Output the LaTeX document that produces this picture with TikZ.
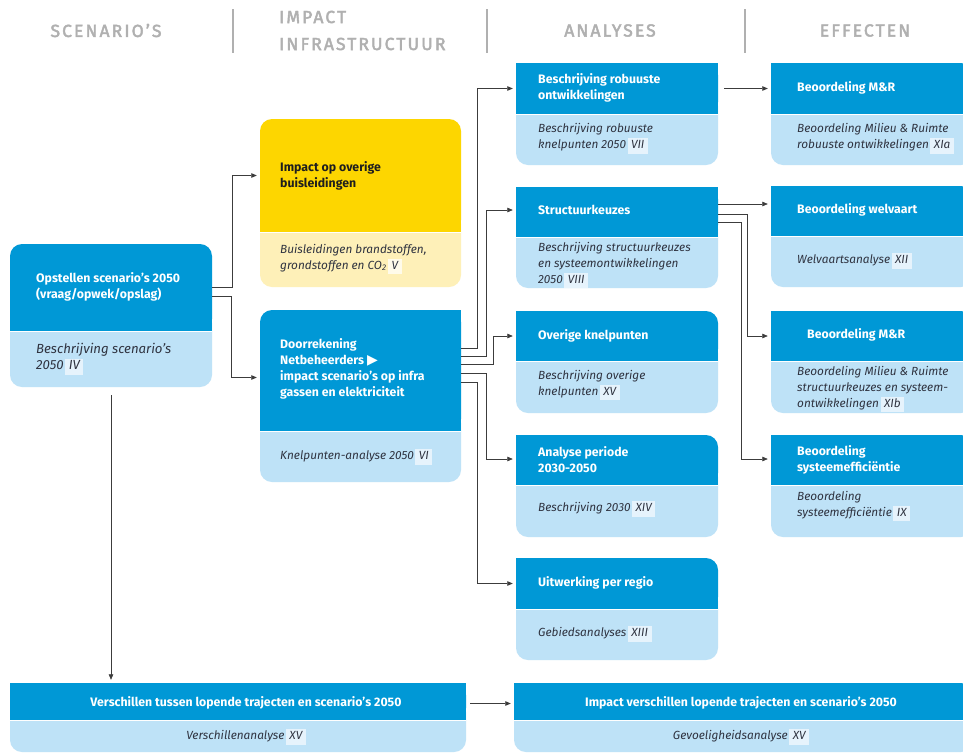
\documentclass[tikz,border=0pt]{standalone}
\usepackage{fontspec}
\setmainfont{Fira Sans}
\newfontfamily\dejavu{DejaVu Sans}
\newfontfamily\ttlfont[LetterSpace=12,FakeBold=2.5]{Fira Sans}
\usetikzlibrary{arrows.meta,calc,fit}
\definecolor{hblue}{HTML}{0098D6}
\definecolor{lblue}{HTML}{BEE2F7}
\definecolor{hyel}{HTML}{FDD600}
\definecolor{lyel}{HTML}{FEF0B8}
\definecolor{tagb}{HTML}{E6F3FC}
\definecolor{tagy}{HTML}{FFFBEA}
\definecolor{ttlc}{HTML}{B0B0B0}
\definecolor{btxt}{HTML}{2F3340}
\definecolor{darkt}{HTML}{1E1E1E}
\definecolor{linkc}{HTML}{3C3C3C}
\newcommand\rn[2][tagb]{\hspace{1.5pt}{\setlength{\fboxsep}{0pt}\colorbox{#1}{\rule[-5pt]{0pt}{15.5pt}\hspace{3.5pt}#2\hspace{3.5pt}}}}
\newcommand\card[8]{%
  \fill[#8,rounded corners=12pt] (#2,{#4-20}) rectangle (#6,#5);
  \fill[#7,rounded corners=12pt] (#2,#3) rectangle (#6,#4);
  \fill[#7] (#2,{#4-14}) rectangle (#6,#4);
  \draw[white,line width=0.7pt] (#2,#4) -- (#6,#4);
  \node[fit={(#2,#3) (#6,#5)},inner sep=0pt] (#1) {};
  \node[fit={(#2,#3) (#6,#4)},inner sep=0pt] (#1h) {};
}
\newcommand\sqTL[3]{\fill[#3] (#1,#2) rectangle ({#1+14},{#2+14});}
\newcommand\sqTR[3]{\fill[#3] ({#1-14},#2) rectangle (#1,{#2+14});}
\tikzset{
  hd/.style={font=\fontsize{12.3}{16}\selectfont\bfseries, text=white, align=left, anchor=west, inner sep=0pt},
  bd/.style={font=\fontsize{11.8}{16}\selectfont\itshape, text=btxt, align=left, anchor=west, inner sep=0pt},
  ttl/.style={font={\ttlfont\fontsize{17.5}{27}\selectfont}, text=ttlc, inner sep=0pt},
  link/.style={draw=linkc, line width=0.75pt, -{Triangle[length=5.5pt,width=4.5pt]}},
  sepl/.style={draw=ttlc, line width=1.3pt}
}
\begin{document}
\begin{tikzpicture}[x=1pt,y=-1pt]
\clip (0,0) rectangle (963,753);
\fill[white] (0,0) rectangle (963,753);

% column titles
\node[ttl] (tt1) at (106,30.5) {SCENARIO’S};
\node[ttl,anchor=west,align=left] (tt2) at (279,30.5) {IMPACT\\INFRASTRUCTUUR};
\node[ttl] (tt3) at (610,30.5) {ANALYSES};
\node[ttl] (tt4) at (865,30.5) {EFFECTEN};
\draw[sepl] (233,9) -- (233,53);
\draw[sepl] (487,9) -- (487,53);
\draw[sepl] (745,9) -- (745,53);

% boxes
\card{scen}{10}{244}{331}{387}{212}{hblue}{lblue}
\card{yel}{260}{119}{232}{287}{461}{hyel}{lyel}
\card{door}{260}{310}{431}{482}{461}{hblue}{lblue}
\sqTR{461}{310}{hblue}
\card{aa}{516}{63}{114}{165}{718}{hblue}{lblue}
\sqTL{516}{63}{hblue}\sqTR{718}{63}{hblue}
\card{ab}{516}{187}{237}{288}{718}{hblue}{lblue}
\sqTL{516}{187}{hblue}\sqTR{718}{187}{hblue}
\card{ac}{516}{311}{361}{413}{718}{hblue}{lblue}
\sqTL{516}{311}{hblue}
\card{ad}{516}{435}{485}{537}{718}{hblue}{lblue}
\sqTL{516}{435}{hblue}
\card{ae}{516}{558}{609}{660}{718}{hblue}{lblue}
\sqTL{516}{558}{hblue}
\card{ea}{771}{63}{114}{165}{973}{hblue}{lblue}
\sqTL{771}{63}{hblue}
\card{eb}{771}{186}{236}{287}{973}{hblue}{lblue}
\sqTL{771}{186}{hblue}
\card{ec}{771}{311}{361}{413}{973}{hblue}{lblue}
\sqTL{771}{311}{hblue}
\card{ed}{771}{435}{485}{537}{973}{hblue}{lblue}
\sqTL{771}{435}{hblue}
\card{ba}{10}{683}{720}{752}{466}{hblue}{lblue}
\sqTL{10}{683}{hblue}\sqTR{466}{683}{hblue}
\card{bb}{514}{683}{720}{752}{973}{hblue}{lblue}
\sqTL{514}{683}{hblue}

% texts
\node[hd] (s1) at (36,287) {Opstellen scenario’s 2050\\(vraag/opwek/opslag)};
\node[bd,font=\fontsize{13.2}{16.5}\selectfont\itshape] (s2) at (36,359) {Beschrijving scenario’s\\2050\rn{IV}};
\node[hd,text=darkt] (y1) at (280,176) {Impact op overige\\buisleidingen};
\node[bd] (y2) at (280,259) {Buisleidingen brandstoffen,\\grondstoffen en CO\textsubscript{2}\rn[tagy]{V}};
\node[hd] (d1) at (280,369) {Doorrekening\\Netbeheerders {\dejavu\fontsize{14}{16}\selectfont ▶}\\impact scenario’s op infra\\gassen en elektriciteit};
\node[bd] (d2) at (280,457) {Knelpunten-analyse 2050\rn{VI}};

\node[hd] (a1) at (538,88) {Beschrijving robuuste\\ontwikkelingen};
\node[bd] (a1b) at (538,138.5) {Beschrijving robuuste\\knelpunten 2050\rn{VII}};
\node[hd] (a2) at (538,210) {Structuurkeuzes};
\node[bd] (a2b) at (538,265) {Beschrijving structuurkeuzes\\en systeemontwikkelingen\\2050\rn{VIII}};
\node[hd] (a3) at (538,336) {Overige knelpunten};
\node[bd] (a3b) at (538,385) {Beschrijving overige\\knelpunten\rn{XV}};
\node[hd] (a4) at (538,459.5) {Analyse periode\\2030-2050};
\node[bd] (a4b) at (538,509) {Beschrijving 2030\rn{XIV}};
\node[hd] (a5) at (538,583) {Uitwerking per regio};
\node[bd] (a5b) at (538,634) {Gebiedsanalyses\rn{XIII}};

\node[hd] (e1) at (797,88) {Beoordeling M\&R};
\node[bd] (e1b) at (797,138.5) {Beoordeling Milieu \& Ruimte\\robuuste ontwikkelingen\rn{XIa}};
\node[hd] (e2) at (797,210) {Beoordeling welvaart};
\node[bd] (e2b) at (797,261) {Welvaartsanalyse\rn{XII}};
\node[hd] (e3) at (807,335) {Beoordeling M\&R};
\node[bd] (e3b) at (797,389) {Beoordeling Milieu \& Ruimte\\structuurkeuzes en systeem-\\ontwikkelingen\rn{XIb}};
\node[hd] (e4) at (797,459.5) {Beoordeling\\systeemefficiëntie};
\node[bd] (e4b) at (797,506) {Beoordeling\\systeemefficiëntie\rn{IX}};

\node[hd,anchor=center] (b1) at (246,703) {Verschillen tussen lopende trajecten en scenario’s 2050};
\node[bd,anchor=center] (b1b) at (246,737) {Verschillenanalyse\rn{XV}};
\node[hd,anchor=center] (b2) at (741,703) {Impact verschillen lopende trajecten en scenario’s 2050};
\node[bd,anchor=center] (b2b) at (741,737) {Gevoeligheidsanalyse\rn{XV}};

% connectors
\draw[link] ($(scenh.east)+(0,-0.5)$) -| ($(yelh.west)+(-27,0)$) -- ($(yelh.west)+(-3,0)$);
\draw[link] ($(scenh.east)+(0,8.5)$) -| ($(doorh.west)+(-28,7)$) -- ($(doorh.west)+(-3,7)$);
\draw[link] ($(scen.south)+(0,8)$) -- ($(scen.south |- bah.north)+(0,-3)$);

\draw[link] ($(doorh.east)+(0,-22.5)$) -| ($(aah.west)+(-38,0)$) -- ($(aah.west)+(-3,0)$);
\draw[link] ($(doorh.east)+(0,-14.5)$) -| ($(abh.west)+(-29,-2)$) -- ($(abh.west)+(-3,-2)$);
\draw[link] ($(doorh.east)+(0,-6.5)$) -| ($(ach.west)+(-22,0)$) -- ($(ach.west)+(-3,0)$);
\draw[link] ($(doorh.east)+(0,2.5)$) -| ($(adh.west)+(-29,-1)$) -- ($(adh.west)+(-3,-1)$);
\draw[link] ($(doorh.east)+(0,11.5)$) -| ($(aeh.west)+(-38,0)$) -- ($(aeh.west)+(-3,0)$);

\draw[link] ($(aah.east)+(6,0)$) -- ($(eah.west)+(-3,0)$);
\draw[link] ($(abh.east)+(0,-8)$) -- ($(abh.east -| ebh.west)+(-3,-8)$);
\draw[link] ($(abh.east)+(0,2)$) -| ($(ech.west)+(-23,0)$) -- ($(ech.west)+(-3,0)$);
\draw[link] ($(abh.east)+(0,10)$) -| ($(edh.west)+(-29,-1)$) -- ($(edh.west)+(-3,-1)$);

\draw[link] ($(bah.east)+(4,2)$) -- ($(bbh.west)+(-3,2)$);
\end{tikzpicture}
\end{document}
